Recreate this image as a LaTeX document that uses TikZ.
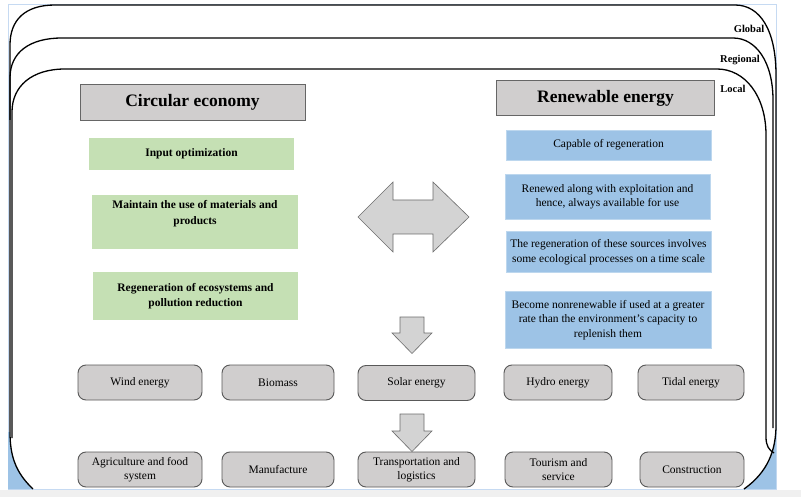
\documentclass[tikz,border=0pt]{standalone}
\usepackage{fontspec}
\setmainfont{Liberation Serif}
\definecolor{boxgray}{HTML}{D0CECE}
\definecolor{cegreen}{HTML}{C5E0B4}
\definecolor{reblue}{HTML}{9DC3E6}
\definecolor{reblueedge}{HTML}{BDD7EE}
\definecolor{arrowgray}{HTML}{D3D3D3}
\definecolor{stripgray}{HTML}{F0F0F0}
\definecolor{borderblue}{HTML}{C6DAF2}
\definecolor{edgegray}{HTML}{595959}
\begin{document}
\begin{tikzpicture}[x=1pt,y=-1pt,
  titlebox/.style={draw=gray!80!black, fill=boxgray, line width=0.8pt, inner sep=0pt,
    font=\fontsize{17.5}{20}\selectfont\bfseries},
  gbox/.style={fill=cegreen, inner sep=0pt, align=center,
    font=\fontsize{11.5}{15.5}\selectfont\bfseries},
  bbox/.style={fill=reblue, draw=reblueedge, line width=0.6pt, inner sep=0pt, align=center,
    font=\fontsize{11.5}{14.5}\selectfont},
  rbox/.style={rounded corners=8pt, draw=edgegray, fill=boxgray, line width=0.9pt,
    inner sep=0pt, align=center, font=\fontsize{11.5}{14}\selectfont},
  blockarrow/.style={draw=gray!85!black, fill=arrowgray, line width=0.6pt, line join=miter},
  frameline/.style={draw=black, line width=1.3pt},
  lvl/.style={font=\fontsize{10.5}{12}\selectfont\bfseries, inner sep=0pt}]
\useasboundingbox (0,0) rectangle (801,497);
% background
\fill[white] (0,0) rectangle (801,497);
\fill[stripgray] (0,489.5) rectangle (801,497);
\draw[borderblue, line width=0.8pt] (8,4) rectangle (776,489.5);
% blue corner fills
\fill[reblue] (8,432) -- (10,432) .. controls (10,455) and (15,472) .. (33,489) -- (8,489) -- cycle;
\fill[reblue] (776,425) .. controls (776,450) and (768,472) .. (744,489) -- (776,489) -- cycle;
% frames
\draw[frameline] (33,489) .. controls (15,472) and (10,455) .. (10,432) -- (10,45)
  .. controls (10,20) and (25,5) .. (55,5) -- (735,5)
  .. controls (760,5) and (776,30) .. (776,75) -- (776,425)
  .. controls (776,450) and (768,472) .. (744,489);
\draw[frameline] (10,120) -- (10,78) .. controls (10,52) and (30,38) .. (62,38) -- (733,38)
  .. controls (756,38) and (773,62) .. (773,100) -- (773,428);
\draw[frameline] (12,438) -- (12,112) .. controls (12,86) and (32,69) .. (65,69) -- (717,69)
  .. controls (745,69) and (766,96) .. (766,135) -- (766,437)
  .. controls (766,446) and (769,450) .. (774,453);
% level labels
\node[lvl] (glob) at (749,29) {Global};
\node[lvl] (regi) at (740,60) {Regional};
\node[lvl] (loca) at (733,89) {Local};
% titles
\node[titlebox, minimum width=225pt, minimum height=36pt] (ce) at (192.5,102) {Circular economy};
\node[titlebox, minimum width=218pt, minimum height=35pt] (re) at (605.5,98) {Renewable energy};
% green boxes
\node[gbox, minimum width=205pt, minimum height=32pt] (g1) at (191.5,154) {Input optimization};
\node[gbox, minimum width=206pt, minimum height=54pt] (g2) at (195,222) {Maintain the use of materials and\\products\\[4pt]};
\node[gbox, minimum width=205pt, minimum height=48pt] (g3) at (195.5,296) {Regeneration of ecosystems and\\pollution reduction};
% blue boxes
\node[bbox, minimum width=205pt, minimum height=30pt] (b1) at (608.5,145) {Capable of regeneration};
\node[bbox, minimum width=205pt, minimum height=45pt] (b2) at (607.5,197) {Renewed along with exploitation and\\hence, always available for use};
\node[bbox, minimum width=205pt, minimum height=41pt] (b3) at (608.5,252) {The regeneration of these sources involves\\some ecological processes on a time scale};
\node[bbox, minimum width=206pt, minimum height=57pt] (b4) at (608,320) {Become nonrenewable if used at a greater\\rate than the environment’s capacity to\\replenish them};
% double arrow
\draw[blockarrow] (358,217) -- (393,182) -- (393,200) -- (433,200) -- (433,182) -- (469,217)
  -- (433,252) -- (433,234) -- (393,234) -- (393,252) -- cycle;
% down arrows
\draw[blockarrow] (400,317) -- (424,317) -- (424,333) -- (432,333) -- (412,353.5) -- (392,333) -- (400,333) -- cycle;
\draw[blockarrow] (400,414) -- (424,414) -- (424,431) -- (432,431) -- (412,451.5) -- (392,431) -- (400,431) -- cycle;
% energy row
\node[rbox, minimum width=124pt, minimum height=35pt] (wind) at (140,382.5) {Wind energy};
\node[rbox, minimum width=112pt, minimum height=35pt] (bio) at (278,382.5) {Biomass};
\node[rbox, minimum width=117pt, minimum height=35pt] (solar) at (416.5,383) {Solar energy};
\node[rbox, minimum width=108pt, minimum height=35pt] (hydro) at (558,382.5) {Hydro energy};
\node[rbox, minimum width=106pt, minimum height=35pt] (tidal) at (691,382.5) {Tidal energy};
% sector row
\node[rbox, minimum width=124pt, minimum height=35pt] (agri) at (140,469.5) {Agriculture and food\\system};
\node[rbox, minimum width=112pt, minimum height=35pt] (manu) at (278,469.5) {Manufacture};
\node[rbox, minimum width=117pt, minimum height=35pt] (trans) at (416.5,469.5) {Transportation and\\logistics};
\node[rbox, minimum width=107pt, minimum height=35pt] (tour) at (558.5,469.5) {Tourism and\\service};
\node[rbox, minimum width=104pt, minimum height=35pt] (cons) at (692,469.5) {Construction};
\end{tikzpicture}
\end{document}
